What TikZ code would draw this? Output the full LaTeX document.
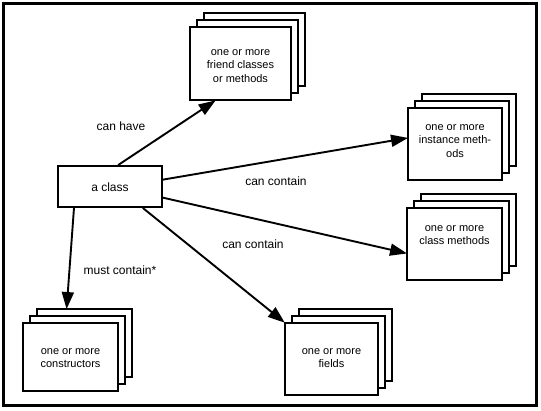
\documentclass[tikz,border=0pt]{standalone}
\usepackage{fontspec}
\setmainfont{Liberation Sans}
\usetikzlibrary{arrows.meta,calc}
\tikzset{
  card/.style={draw, fill=white, line width=1.9pt, inner sep=0pt},
  cardtext/.style={align=center, font=\fontsize{11}{13.5}\selectfont, inner sep=0pt},
  lbl/.style={font=\fontsize{12}{14}\selectfont, inner sep=0pt},
  conn/.style={line width=1.9pt, -{Triangle[length=17pt,width=12pt]}, shorten >=-1pt},
}
\begin{document}
\begin{tikzpicture}[x=1pt,y=-1pt]
\useasboundingbox (0,0) rectangle (541,410);
\draw[line width=3.5pt] (3.5,3.5) rectangle (536.5,405.5);

% a class
\node[card, minimum width=104pt, minimum height=41pt] (cls) at (110,186.5) {};
\node[lbl] (clst) at (110,187) {a class};

% friend classes stack
\node[card, minimum width=101pt, minimum height=73pt] (fr3) at (254.5,49.5) {};
\node[card, minimum width=101pt, minimum height=73pt] (fr2) at (247.5,56.5) {};
\node[card, minimum width=101pt, minimum height=73pt] (fr) at (240.5,63.5) {};
\node[cardtext] (frt) at (240.5,66) {one or more\\friend classes\\or methods};

% instance methods stack
\node[card, minimum width=94pt, minimum height=72pt] (in3) at (469,130) {};
\node[card, minimum width=94pt, minimum height=72pt] (in2) at (462,137) {};
\node[card, minimum width=94pt, minimum height=72pt] (in) at (455,144) {};
\node[cardtext] (int) at (455,141) {one or more\\instance meth-\\ods};

% class methods stack
\node[card, minimum width=95pt, minimum height=72pt] (cm3) at (468.5,230) {};
\node[card, minimum width=95pt, minimum height=72pt] (cm2) at (461.5,237) {};
\node[card, minimum width=95pt, minimum height=72pt] (cm) at (454.5,244) {};
\node[cardtext] (cmt) at (454.5,235) {one or more\\class methods};

% constructors stack
\node[card, minimum width=95pt, minimum height=68pt] (co3) at (84.5,343) {};
\node[card, minimum width=95pt, minimum height=68pt] (co2) at (77.5,350) {};
\node[card, minimum width=95pt, minimum height=68pt] (co) at (70.5,357) {};
\node[cardtext] (cot) at (70.5,358) {one or more\\constructors};

% fields stack
\node[card, minimum width=93pt, minimum height=72pt] (fd3) at (345.5,345) {};
\node[card, minimum width=93pt, minimum height=72pt] (fd2) at (338.5,352) {};
\node[card, minimum width=93pt, minimum height=72pt] (fd) at (331.5,359) {};
\node[cardtext] (fdt) at (331.5,358) {one or more\\fields};

% connectors
\draw[conn] ($(cls.north west)!0.577!(cls.north east)$) -- ($(fr.south west)!0.25!(fr.south east)$);
\draw[conn] ($(cls.north east)!0.34!(cls.south east)$) -- ($(in.north west)!0.42!(in.south west)$);
\draw[conn] ($(cls.north east)!0.76!(cls.south east)$) -- ($(cm.north west)!0.625!(cm.south west)$);
\draw[conn] ($(cls.south west)!0.81!(cls.south east)$) -- (fd.north west);
\draw[conn] ($(cls.south west)!0.16!(cls.south east)$) -- ($(co3.north west)!0.316!(co3.north east)$);

% labels
\node[lbl] (l1) at (121,126) {can have};
\node[lbl] (l2) at (276,181) {can contain};
\node[lbl] (l3) at (253,244) {can contain};
\node[lbl] (l4) at (120,270) {must contain*};
\end{tikzpicture}
\end{document}
